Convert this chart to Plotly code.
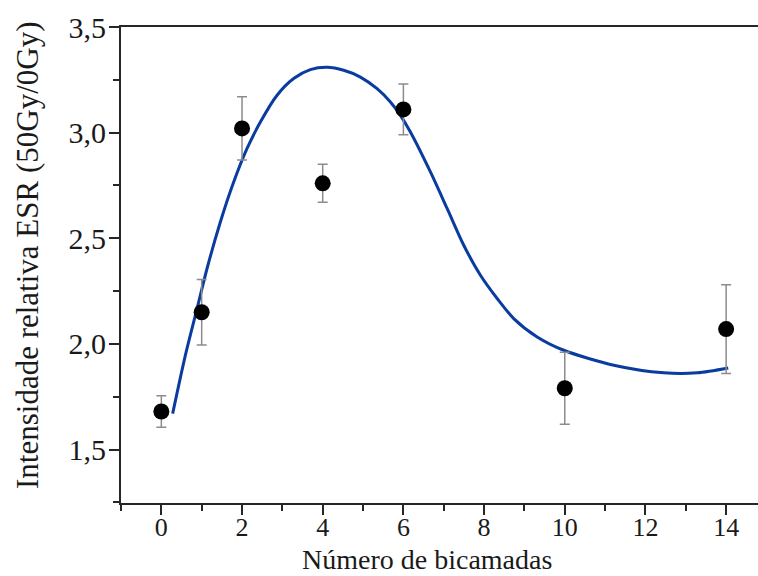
import plotly.graph_objects as go

# Measured points: number of bilayers vs. relative ESR intensity (50Gy/0Gy)
bilayers = [0, 1, 2, 4, 6, 10, 14]
intensity = [1.68, 2.15, 3.02, 2.76, 3.11, 1.79, 2.07]
intensity_err = [0.075, 0.155, 0.15, 0.09, 0.12, 0.17, 0.21]

# Fitted trend curve, sampled along its path
fit_x = [0.28, 0.595, 0.885, 1.133, 1.463, 1.793, 2.125, 2.455, 2.869, 3.28,
         3.694, 4.109, 4.52, 4.934, 5.348, 5.678, 5.926, 6.174, 6.67,
         7.084, 7.496, 7.91, 8.324, 8.735, 9.316, 9.975, 11.215, 12.455,
         13.283, 14.052]
fit_y = [1.670, 1.946, 2.167, 2.357, 2.577, 2.766, 2.925, 3.050, 3.177, 3.256,
         3.298, 3.309, 3.295, 3.263, 3.208, 3.145, 3.082, 3.003, 2.814,
         2.641, 2.467, 2.325, 2.215, 2.120, 2.033, 1.970, 1.899, 1.863,
         1.863, 1.886]

x_ticks = [0, 2, 4, 6, 8, 10, 12, 14]
y_ticks = [1.5, 2.0, 2.5, 3.0, 3.5]

FONT = "Liberation Serif"
AXIS_COLOR = "#262626"

fig = go.Figure()

fig.add_trace(go.Scatter(
    x=fit_x, y=fit_y, mode="lines",
    line=dict(color="#0a3ca0", width=3, shape="spline", smoothing=0.8),
    hoverinfo="skip", showlegend=False,
))

fig.add_trace(go.Scatter(
    x=bilayers, y=intensity, mode="markers",
    marker=dict(color="black", size=16),
    error_y=dict(type="data", array=intensity_err, visible=True,
                 color="#8c8c8c", thickness=1.5, width=5),
    showlegend=False,
))

fig.update_layout(
    width=758, height=576,
    margin=dict(l=121, r=0, t=27, b=73),
    paper_bgcolor="white", plot_bgcolor="white",
    separators=",.",
    font=dict(family=FONT, size=28, color="#1a1a1a"),
    annotations=[
        dict(text="Número de bicamadas", xref="paper", yref="paper",
             x=0.4796, y=-0.1197, xanchor="center", yanchor="middle",
             showarrow=False, font=dict(family=FONT, size=28)),
        dict(text="Intensidade relativa ESR (50Gy/0Gy)", xref="paper",
             yref="paper", x=-0.1476, y=0.521, xanchor="center",
             yanchor="middle", textangle=-90, showarrow=False,
             font=dict(family=FONT, size=31)),
    ],
)

fig.update_xaxes(
    range=[-1, 14.79],
    tickmode="array", tickvals=x_ticks,
    ticks="outside", ticklen=10, tickwidth=2, tickcolor=AXIS_COLOR,
    minor=dict(dtick=1, tick0=0, ticks="outside", ticklen=6, tickwidth=2,
               tickcolor=AXIS_COLOR, showgrid=False),
    showline=True, linewidth=2, linecolor=AXIS_COLOR, mirror=True,
    showgrid=False, zeroline=False,
    tickfont=dict(family=FONT, size=26),
    ticklabelstandoff=-10,
)

fig.update_yaxes(
    range=[1.247, 3.5],
    tickmode="array", tickvals=y_ticks, tickformat=".1f",
    ticks="outside", ticklen=10, tickwidth=2, tickcolor=AXIS_COLOR,
    minor=dict(dtick=0.25, tick0=1.5, ticks="outside", ticklen=6, tickwidth=2,
               tickcolor=AXIS_COLOR, showgrid=False),
    showline=True, linewidth=2, linecolor=AXIS_COLOR, mirror=False,
    showgrid=False, zeroline=False,
    tickfont=dict(family=FONT, size=30),
    ticklabelstandoff=-3,
)

fig.write_html("out.html")
